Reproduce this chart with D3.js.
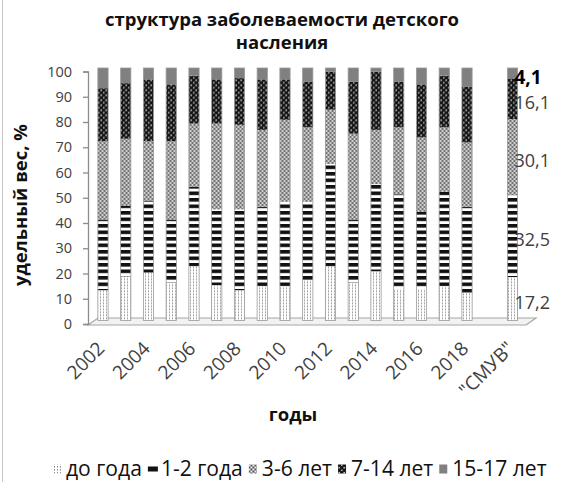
<!DOCTYPE html>
<html><head><meta charset="utf-8">
<script src="https://cdn.jsdelivr.net/npm/d3@7/dist/d3.min.js"></script>
<style>
body{margin:0;background:#fff;}
text{font-family:'Open Sans','Noto Sans',sans-serif;}
</style></head><body>
<svg id="c" width="563" height="482"></svg>
<script>
// ---- data ----
const categories = ["2002","2003","2004","2005","2006","2007","2008","2009","2010","2011","2012","2013","2014","2015","2016","2017","2018","","\"СМУВ\""];
const seriesNames = ["до года","1-2 года","3-6 лет","7-14 лет","15-17 лет"];
const under1   = [12,17.5,19,15,21.5,14,12,13.5,13.5,16,21.5,15,19.5,12.5,12.5,13.5,11,null,17.2];
const age1_2   = [28,28,28.5,25,31.5,30,32,31.5,33.5,31,40.5,25,34.5,37.5,30.5,37.5,34,null,32.5];
const age3_6   = [31,26.5,23.5,31,25,34,33.5,30.5,32.5,29.5,21.5,34,21.5,26.5,29.5,25.5,25.5,null,30.1];
const age7_14  = [21,22,24.5,22.5,19,17.5,18.5,20,16,18,15,20.5,23,18,21,20.5,22,null,16.1];
const age15_17 = [8,6,4.5,6.5,3,4.5,4,4.5,4.5,5.5,1.5,5.5,1.5,5.5,6.5,3,7.5,null,4.1];
const yTicks = [0,10,20,30,40,50,60,70,80,90,100];
const labeledCategory = "\"СМУВ\"";
const titleLines = ["структура  заболеваемости детского","насления"];
const yTitle = "удельный вес, %";
const xTitle = "годы";

const series = [under1, age1_2, age3_6, age7_14, age15_17];

// ---- setup ----
const svg = d3.select("#c");
const W = 563, H = 482;

const x = d3.scaleBand().domain(categories).range([86.5, 529]).paddingInner(0.55).paddingOuter(0.5);
const y = d3.scaleLinear().domain([0,100]).range([324, 71.5]);
const depth = 3.5; // 3D offset of the bars

// patterns
const defs = svg.append("defs");
function pat(id, w, h, bg, build){
  const p = defs.append("pattern").attr("id", id).attr("patternUnits","userSpaceOnUse").attr("width", w).attr("height", h);
  p.append("rect").attr("width", w).attr("height", h).attr("fill", bg);
  build(p);
}
pat("p0", 3, 3, "#fff", p => {
  p.append("rect").attr("x",1).attr("y",0).attr("width",1).attr("height",1.6).attr("fill","#8c8c8c");
});
pat("p1", 4, 6.5, "#fff", p => {
  p.append("rect").attr("x",0).attr("y",0).attr("width",4).attr("height",3.6).attr("fill","#111");
});
pat("p2", 4, 4, "#a0a0a0", p => {
  p.append("rect").attr("x",0).attr("y",0).attr("width",1).attr("height",1).attr("fill","#fff");
  p.append("rect").attr("x",2).attr("y",2).attr("width",1).attr("height",1).attr("fill","#fff");
  p.append("rect").attr("x",2).attr("y",0).attr("width",1).attr("height",1).attr("fill","#444");
  p.append("rect").attr("x",0).attr("y",2).attr("width",1).attr("height",1).attr("fill","#444");
});
pat("p3", 5, 5, "#fff", p => {
  [[1.25,1.25],[3.75,3.75],[6.25,1.25],[1.25,6.25],[-1.25,3.75],[3.75,-1.25]].forEach(c=>
    p.append("circle").attr("cx",c[0]).attr("cy",c[1]).attr("r",1.9).attr("fill","#151515"));
});
const fills = ["url(#p0)","url(#p1)","url(#p2)","url(#p3)","#808080"];

// border (left edge of chart area)
svg.append("line").attr("x1",2.5).attr("x2",2.5).attr("y1",0).attr("y2",H).attr("stroke","#c8c8c8").attr("stroke-width",1);

// floor
const fl = x.range()[0] + 1.5, fr = x.range()[1] - 3;
svg.append("polygon")
  .attr("points", [[fl, y(0)+1],[fl+10, y(0)-6],[fr+10, y(0)-6],[fr, y(0)+1]].map(p=>p.join(",")).join(" "))
  .attr("fill","#f2f2f2").attr("stroke","#a6a6a6").attr("stroke-width",1.2);

// y axis
const yAxisG = svg.append("g").attr("transform","translate(88,0)")
  .call(d3.axisLeft(y).tickValues(yTicks).tickSize(5).tickPadding(11));
yAxisG.select(".domain").attr("stroke","#8c8c8c").attr("stroke-width",1.3);
yAxisG.selectAll(".tick line").attr("stroke","#8c8c8c").attr("stroke-width",1.3);
yAxisG.selectAll(".tick text").attr("font-size",14.5).attr("fill","#404040").style("font-family","'Open Sans',sans-serif");

// stacked bars
const rows = categories.map((c,i)=>({cat:c, vals: series.map(s=>s[i])}));
const bw = x.bandwidth();
const barG = svg.append("g").attr("transform",`translate(0,${-depth})`);
rows.forEach(r=>{
  if (r.vals[0] == null) return;
  let acc = 0;
  const g = barG.append("g");
  r.vals.forEach((v,k)=>{
    g.append("rect")
      .attr("x", x(r.cat)).attr("width", bw)
      .attr("y", y(acc+v)).attr("height", y(acc)-y(acc+v))
      .attr("fill", fills[k]);
    acc += v;
  });
  g.append("rect").attr("x", x(r.cat)).attr("width", bw)
    .attr("y", y(acc)).attr("height", y(0)-y(acc))
    .attr("fill","none").attr("stroke","#9a9a9a").attr("stroke-width",0.8);
});

// data labels for labeled category
(function(){
  const i = categories.indexOf(labeledCategory);
  let acc = 0;
  series.forEach((s,k)=>{
    const v = s[i];
    const mid = acc + v/2;
    acc += v;
    svg.append("text")
      .attr("x", x(labeledCategory) + bw/2 + 2)
      .attr("y", y(mid) - depth + 4)
      .attr("dy","0.35em")
      .attr("font-size", k===4 ? 19 : 18)
      .attr("font-weight", k===4 ? "bold" : "normal")
      .attr("fill", k===4 ? "#000" : "#404040")
      .text(String(v).replace(".", ","));
  });
})();

// x axis labels
const xAxisG = svg.append("g").attr("transform",`translate(-2,${y(0)+21})`)
  .call(d3.axisBottom(x).tickValues(categories.filter((d,i)=>i%2===0 && d!=="")).tickSize(0));
xAxisG.select(".domain").remove();
xAxisG.selectAll(".tick text")
  .attr("y",0).attr("x",0).attr("dy","0.35em")
  .attr("transform","rotate(-45)").attr("text-anchor","end")
  .attr("font-size",19).attr("fill","#404040").style("font-family","'Open Sans',sans-serif");

// titles
const title = svg.append("text").attr("text-anchor","middle").attr("font-weight","bold").attr("font-size",18.5).attr("fill","#111");
titleLines.forEach((t,i)=>title.append("tspan").attr("x",282).attr("y",26 + i*23).text(t));

svg.append("text").attr("transform",`translate(27,205) rotate(-90)`)
  .attr("text-anchor","middle").attr("font-weight","bold").attr("font-size",18.5).attr("fill","#111").text(yTitle);

svg.append("text").attr("x",293).attr("y",421).attr("text-anchor","middle")
  .attr("font-weight","bold").attr("font-size",18.5).attr("fill","#111").text(xTitle);

// legend (fit between x=53 and x=547)
const lg = svg.append("g").attr("transform","translate(53,469)");
function drawLegend(fs){
  lg.selectAll("*").remove();
  let lx = 0;
  seriesNames.forEach((n,k)=>{
    const item = lg.append("g").attr("transform",`translate(${lx},0)`);
    if (k===1) item.append("rect").attr("x",0).attr("y",-2.5).attr("width",10).attr("height",5).attr("fill","#111");
    else item.append("rect").attr("x",0).attr("y",-4.5).attr("width",8).attr("height",9).attr("fill",fills[k]);
    const t = item.append("text").attr("x",13).attr("dy","0.35em").attr("font-size",fs).attr("fill","#111").text(n);
    lx += 13 + t.node().getComputedTextLength() + 6;
  });
  return lx - 6;
}
let fs = 18;
const w0 = drawLegend(fs);
const textW = w0 - 5*13 - 4*6;
fs = fs * (494 - 5*13 - 4*6) / textW;
drawLegend(Math.min(fs, 22));
</script>
</body></html>
